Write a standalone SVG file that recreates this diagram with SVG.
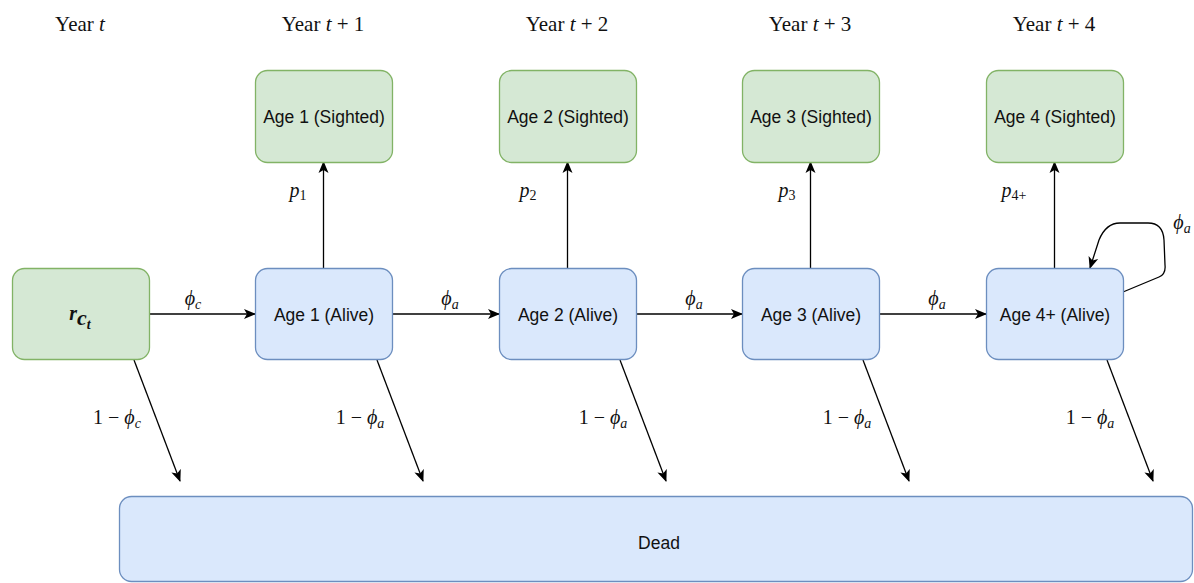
<svg xmlns="http://www.w3.org/2000/svg" width="1194" height="583" viewBox="0 0 1194 583">
<style>
.g{fill:#d5e8d4;stroke:#82b366;stroke-width:1.3}
.b{fill:#dae8fc;stroke:#6c8ebf;stroke-width:1.3}
.t{font-family:"Liberation Sans",Arial,sans-serif;font-size:17.5px;fill:#111;text-anchor:middle;dominant-baseline:central}
.m{font-family:"Liberation Serif","Times New Roman",serif;font-size:20px;fill:#111;text-anchor:middle}
.y{font-family:"Liberation Serif","Times New Roman",serif;font-size:21px;fill:#111;text-anchor:middle}
.mi{font-style:italic}
.c{fill:none;stroke:#000;stroke-width:1.3}
</style>
<defs>
<marker id="a" markerUnits="userSpaceOnUse" markerWidth="14" markerHeight="12" refX="11" refY="5" orient="auto" viewBox="0 0 14 10">
<path d="M0,0 L12,5 L0,10 L3,5 Z" fill="#000"/>
</marker>
</defs>
<g id="labels-years">
<text class="y" x="80" y="31">Year <tspan class="mi">t</tspan></text>
<text class="y" x="323" y="31">Year <tspan class="mi">t</tspan>  +  1</text>
<text class="y" x="567" y="31">Year <tspan class="mi">t</tspan>  +  2</text>
<text class="y" x="810" y="31">Year <tspan class="mi">t</tspan>  +  3</text>
<text class="y" x="1054" y="31">Year <tspan class="mi">t</tspan>  +  4</text>
</g>
<g id="connectors">
<path class="c" marker-end="url(#a)" d="M149,314 L255,314"/>
<path class="c" marker-end="url(#a)" d="M392,314 L499,314"/>
<path class="c" marker-end="url(#a)" d="M636,314 L742,314"/>
<path class="c" marker-end="url(#a)" d="M879,314 L986,314"/>
<path class="c" marker-end="url(#a)" d="M323.5,268 L323.5,162"/>
<path class="c" marker-end="url(#a)" d="M567.5,268 L567.5,162"/>
<path class="c" marker-end="url(#a)" d="M810.5,268 L810.5,162"/>
<path class="c" marker-end="url(#a)" d="M1054.5,268 L1054.5,162"/>
<path class="c" marker-end="url(#a)" d="M134,360 L180,481"/>
<path class="c" marker-end="url(#a)" d="M377,360 L423,481"/>
<path class="c" marker-end="url(#a)" d="M620,360 L666,481"/>
<path class="c" marker-end="url(#a)" d="M863,360 L909,481"/>
<path class="c" marker-end="url(#a)" d="M1107,360 L1153,481"/>
<path class="c" marker-end="url(#a)" d="M1123,292 L1159,277 Q1166,274 1165,265 L1164,240 Q1163,223 1148,223 L1120,223 Q1106,223 1099,240 L1090,268"/>
</g>
<g id="edge-labels">
<text class="m" x="193" y="305"><tspan class="mi">ϕ</tspan><tspan class="mi" font-size="14" dy="4">c</tspan></text>
<text class="m" x="450" y="305"><tspan class="mi">ϕ</tspan><tspan class="mi" font-size="14" dy="4">a</tspan></text>
<text class="m" x="694" y="305"><tspan class="mi">ϕ</tspan><tspan class="mi" font-size="14" dy="4">a</tspan></text>
<text class="m" x="937" y="305"><tspan class="mi">ϕ</tspan><tspan class="mi" font-size="14" dy="4">a</tspan></text>
<text class="m" x="1182" y="229"><tspan class="mi">ϕ</tspan><tspan class="mi" font-size="14" dy="4">a</tspan></text>
<text class="m" x="298" y="197"><tspan class="mi">p</tspan><tspan font-size="14" dy="3">1</tspan></text>
<text class="m" x="528" y="197"><tspan class="mi">p</tspan><tspan font-size="14" dy="3">2</tspan></text>
<text class="m" x="787" y="197"><tspan class="mi">p</tspan><tspan font-size="14" dy="3">3</tspan></text>
<text class="m" x="1014" y="197"><tspan class="mi">p</tspan><tspan font-size="14" dy="3">4+</tspan></text>
<text class="m" x="117" y="424">1 − <tspan class="mi">ϕ</tspan><tspan class="mi" font-size="14" dy="4">c</tspan></text>
<text class="m" x="360" y="424">1 − <tspan class="mi">ϕ</tspan><tspan class="mi" font-size="14" dy="4">a</tspan></text>
<text class="m" x="603" y="424">1 − <tspan class="mi">ϕ</tspan><tspan class="mi" font-size="14" dy="4">a</tspan></text>
<text class="m" x="847" y="424">1 − <tspan class="mi">ϕ</tspan><tspan class="mi" font-size="14" dy="4">a</tspan></text>
<text class="m" x="1090" y="424">1 − <tspan class="mi">ϕ</tspan><tspan class="mi" font-size="14" dy="4">a</tspan></text>
</g>
<g id="node-rct">
<rect class="g" x="12.5" y="268.5" width="137" height="91" rx="12"/>
<text class="m" x="80" y="320" font-size="32" font-weight="bold"><tspan class="mi">r</tspan><tspan class="mi" font-size="22" dy="5">c</tspan><tspan class="mi" font-size="14" dy="4">t</tspan></text>
</g>
<g id="node-age1-sighted">
<rect class="g" x="255.5" y="70.5" width="137" height="92" rx="12"/>
<text class="t" x="324" y="117">Age 1 (Sighted)</text>
</g>
<g id="node-age2-sighted">
<rect class="g" x="499.5" y="70.5" width="137" height="92" rx="12"/>
<text class="t" x="568" y="117">Age 2 (Sighted)</text>
</g>
<g id="node-age3-sighted">
<rect class="g" x="742.5" y="70.5" width="137" height="92" rx="12"/>
<text class="t" x="811" y="117">Age 3 (Sighted)</text>
</g>
<g id="node-age4-sighted">
<rect class="g" x="986.5" y="70.5" width="137" height="92" rx="12"/>
<text class="t" x="1055" y="117">Age 4 (Sighted)</text>
</g>
<g id="node-age1-alive">
<rect class="b" x="255.5" y="268.5" width="137" height="91" rx="12"/>
<text class="t" x="324" y="315">Age 1 (Alive)</text>
</g>
<g id="node-age2-alive">
<rect class="b" x="499.5" y="268.5" width="137" height="91" rx="12"/>
<text class="t" x="568" y="315">Age 2 (Alive)</text>
</g>
<g id="node-age3-alive">
<rect class="b" x="742.5" y="268.5" width="137" height="91" rx="12"/>
<text class="t" x="811" y="315">Age 3 (Alive)</text>
</g>
<g id="node-age4-alive">
<rect class="b" x="986.5" y="268.5" width="137" height="91" rx="12"/>
<text class="t" x="1055" y="315">Age 4+ (Alive)</text>
</g>
<g id="node-dead">
<rect class="b" x="119.5" y="496.5" width="1073" height="85" rx="12"/>
<text class="t" x="659" y="543">Dead</text>
</g>
</svg>
